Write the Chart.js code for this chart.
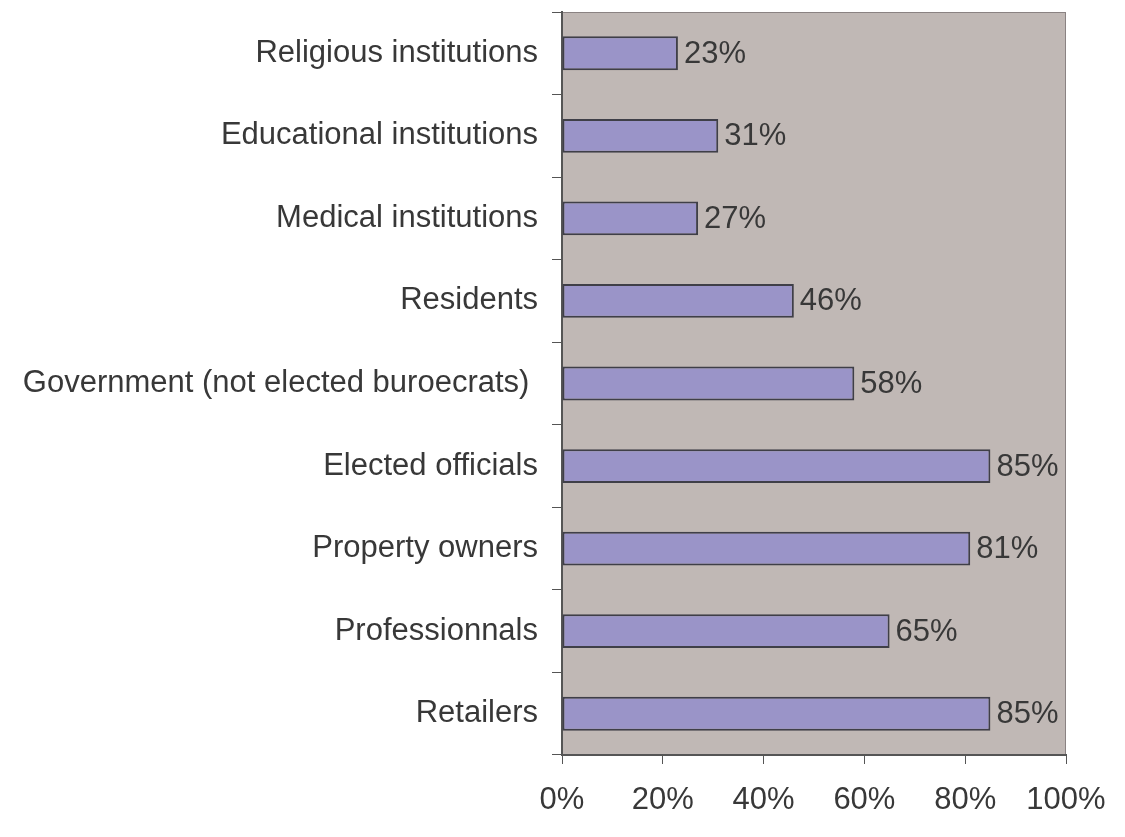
<!DOCTYPE html>
<html>
<head>
<meta charset="utf-8">
<script src="https://cdn.jsdelivr.net/npm/chart.js@4/dist/chart.umd.min.js"></script>
<style>
  html, body { margin: 0; padding: 0; background: #ffffff; }
  #wrap { width: 1125px; height: 837px; position: relative; }
</style>
</head>
<body>
<div id="wrap"><canvas id="barChart"></canvas></div>
<script>
// Chart data
const categories = [
    'Religious institutions',
    'Educational institutions',
    'Medical institutions',
    'Residents',
    'Government (not elected buroecrats) ',
    'Elected officials',
    'Property owners',
    'Professionnals',
    'Retailers'
];
const shares = [23, 31, 27, 46, 58, 85, 81, 65, 85];
const xTicks = [0, 20, 40, 60, 80, 100];

const textColor = '#383838';
const fontFamily = '"Liberation Sans", Arial, sans-serif';
const fontSize = 31;

// Plot area background + border (Excel style)
const plotBackground = {
    id: 'plotBackground',
    beforeDraw(chart) {
        const { ctx, chartArea: a } = chart;
        ctx.save();
        ctx.fillStyle = '#c0b8b5';
        ctx.fillRect(a.left, a.top, a.right - a.left, a.bottom - a.top);
        ctx.strokeStyle = '#8a8282';
        ctx.lineWidth = 1;
        ctx.strokeRect(a.left + 0.5, a.top + 0.5, a.right - a.left - 1, a.bottom - a.top - 1);
        ctx.restore();
    }
};

// Value labels to the right of each bar
const valueLabels = {
    id: 'valueLabels',
    afterDatasetsDraw(chart) {
        const { ctx } = chart;
        const meta = chart.getDatasetMeta(0);
        ctx.save();
        ctx.font = fontSize + 'px ' + fontFamily;
        ctx.fillStyle = textColor;
        ctx.textAlign = 'left';
        ctx.textBaseline = 'middle';
        meta.data.forEach((bar, i) => {
            ctx.fillText(shares[i] + '%', bar.x + 6, bar.y + 1);
        });
        ctx.restore();
    }
};

const ctx = document.getElementById('barChart').getContext('2d');
new Chart(ctx, {
    type: 'bar',
    data: {
        labels: categories,
        datasets: [{
            data: shares,
            backgroundColor: '#9a94c8',
            borderColor: '#3f3f48',
            borderWidth: 2,
            borderSkipped: false,
            barPercentage: 0.41,
            categoryPercentage: 1.0
        }]
    },
    options: {
        indexAxis: 'y',
        responsive: true,
        maintainAspectRatio: false,
        animation: false,
        layout: {
            padding: { left: 0, right: 59, top: 12, bottom: 0 }
        },
        plugins: {
            legend: { display: false },
            tooltip: { enabled: false }
        },
        scales: {
            y: {
                grid: {
                    offset: true,
                    drawOnChartArea: false,
                    drawTicks: true,
                    tickLength: 10,
                    color: '#555555'
                },
                border: { color: '#555555', width: 2 },
                ticks: {
                    color: textColor,
                    padding: 14,
                    font: { size: fontSize, family: fontFamily }
                },
                afterFit(scale) {
                    scale.width = 562;
                    scale.paddingTop = 0;
                    scale.paddingBottom = 0;
                }
            },
            x: {
                min: 0,
                max: 100,
                afterBuildTicks(scale) {
                    scale.ticks = xTicks.map(v => ({ value: v }));
                },
                grid: {
                    drawOnChartArea: false,
                    drawTicks: true,
                    tickLength: 9,
                    color: '#555555'
                },
                border: { color: '#555555', width: 2 },
                ticks: {
                    color: textColor,
                    padding: 18,
                    font: { size: fontSize, family: fontFamily },
                    callback: v => v + '%'
                },
                afterFit(scale) {
                    scale.height = 82;
                    scale.paddingLeft = 0;
                    scale.paddingRight = 0;
                }
            }
        }
    },
    plugins: [plotBackground, valueLabels]
});
</script>
</body>
</html>
